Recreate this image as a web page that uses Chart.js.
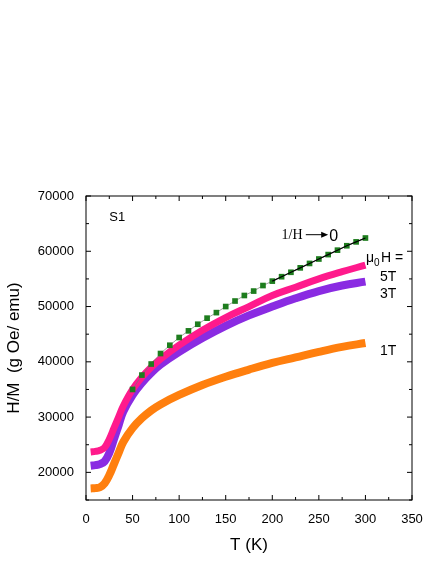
<!DOCTYPE html>
<html>
<head>
<script src="https://cdn.jsdelivr.net/npm/chart.js"></script>
<style>
  body { margin: 0; background: #fff; }
  #wrap { width: 436px; height: 564px; }
</style>
</head>
<body>
<div id="wrap"><canvas id="chart"></canvas></div>
<script>
const tGreen = [50,60,70,80,90,100,110,120,130,140,150,160,170,180,190,200,210,220,230,240,250,260,270,280,290,300];
const hmGreen = [35000,37600,39600,41500,43000,44400,45600,46800,47900,48900,50000,51000,52000,52800,53800,54600,55400,56200,57000,57800,58600,59400,60200,61000,61700,62400];
const tCurve = [5,10,15,20,25,30,35,40,50,60,70,80,100,125,150,175,200,225,250,275,300];
const hm5T = [23700,23800,24000,24500,26000,28000,30000,32000,35000,37200,39000,40500,43000,45700,48000,50000,52000,53500,55000,56300,57500];
const hm3T = [21200,21300,21500,22000,23500,26000,28500,31000,34000,36200,38000,39500,41800,44300,46500,48400,50000,51500,52800,53800,54500];
const hm1T = [17100,17150,17300,18000,19500,21500,23500,25500,28000,29800,31200,32300,34000,35800,37300,38600,39800,40800,41800,42700,43400];
const xTicks = [0,50,100,150,200,250,300,350];
const yTicks = [20000,30000,40000,50000,60000,70000];

const pts = (xs, ys) => xs.map((x, i) => ({ x: x, y: ys[i] }));
const fitLine = pts(tGreen.slice(15), hmGreen.slice(15));

const ticksPlugin = {
  id: 'ticksPlugin',
  afterDraw(chart) {
    const c = chart.ctx, a = chart.chartArea, sx = chart.scales.x, sy = chart.scales.y;
    c.save();
    c.strokeStyle = '#000';
    c.lineWidth = 1;
    c.strokeRect(a.left, a.top, a.right - a.left, a.bottom - a.top);
    c.beginPath();
    for (let v = 0; v <= 350; v += 25) {
      const p = sx.getPixelForValue(v), L = v % 50 === 0 ? 5 : 3;
      c.moveTo(p, a.bottom); c.lineTo(p, a.bottom - L);
      c.moveTo(p, a.top); c.lineTo(p, a.top + L);
    }
    for (let v = 15000; v <= 70000; v += 5000) {
      const p = sy.getPixelForValue(v), L = v % 10000 === 0 ? 5 : 3;
      c.moveTo(a.left, p); c.lineTo(a.left + L, p);
      c.moveTo(a.right, p); c.lineTo(a.right - L, p);
    }
    c.stroke();
    c.fillStyle = '#000';
    c.font = '13px "Liberation Sans", Arial';
    c.fillText('S1', sx.getPixelForValue(25), sy.getPixelForValue(65500));
    c.font = '14px "Liberation Serif", serif';
    c.fillText('1/H', sx.getPixelForValue(210), sy.getPixelForValue(62300));
    const ay = sy.getPixelForValue(63000);
    c.beginPath();
    c.moveTo(sx.getPixelForValue(236), ay);
    c.lineTo(sx.getPixelForValue(255), ay);
    c.stroke();
    c.beginPath();
    const ax = sx.getPixelForValue(260);
    c.moveTo(ax, ay); c.lineTo(ax - 7, ay - 3); c.lineTo(ax - 7, ay + 3); c.fill();
    c.font = '16px "Liberation Sans", Arial';
    c.fillText('0', ax + 1, ay + 6);
    c.font = '14px "Liberation Sans", Arial';
    c.fillText('\u03bc', 366, 262);
    c.font = '10px "Liberation Sans", Arial';
    c.fillText('0', 374, 266);
    c.font = '14px "Liberation Sans", Arial';
    c.fillText('H =', 381, 262);
    c.fillText('5T', 380, 281);
    c.fillText('3T', 380, 298);
    c.fillText('1T', 380, 355);
    c.restore();
  }
};

const font = { size: 13, family: '"Liberation Sans", Arial' };

new Chart(document.getElementById('chart'), {
  type: 'scatter',
  data: {
    datasets: [
      { data: fitLine, showLine: true, borderColor: '#000', borderWidth: 1.2, pointRadius: 0 },
      { data: pts(tGreen, hmGreen), showLine: true, borderColor: '#777', borderWidth: 0.7, pointStyle: 'rect', pointRadius: 4, pointBackgroundColor: '#1e7d1e', pointBorderWidth: 0 },
      { data: pts(tCurve, hm5T), showLine: true, tension: 0.4, borderColor: '#ff1a8c', borderWidth: 7, pointRadius: 0 },
      { data: pts(tCurve, hm3T), showLine: true, tension: 0.4, borderColor: '#8a2be2', borderWidth: 8, pointRadius: 0 },
      { data: pts(tCurve, hm1T), showLine: true, tension: 0.4, borderColor: '#ff7f0e', borderWidth: 8, pointRadius: 0 }
    ]
  },
  options: {
    responsive: true,
    maintainAspectRatio: false,
    animation: false,
    layout: { padding: { top: 196, right: 24, bottom: 4, left: 0 } },
    plugins: { legend: { display: false }, tooltip: { enabled: false } },
    scales: {
      x: {
        type: 'linear', min: 0, max: 350,
        afterBuildTicks: s => { s.ticks = xTicks.map(v => ({ value: v })); },
        grid: { display: false }, border: { display: false },
        ticks: { color: '#000', font: font, padding: 4 },
        title: { display: true, text: 'T (K)', color: '#000', font: { size: 17, family: '"Liberation Sans", Arial' } }
      },
      y: {
        type: 'linear', min: 15000, max: 70000,
        afterBuildTicks: s => { s.ticks = yTicks.map(v => ({ value: v })); },
        afterFit: s => { s.width = 86; },
        grid: { display: false }, border: { display: false },
        ticks: { color: '#000', font: font, padding: 4, callback: v => String(v) },
        title: { display: true, text: 'H/M  (g Oe/ emu)', color: '#000', font: { size: 17, family: '"Liberation Sans", Arial' } }
      }
    }
  },
  plugins: [ticksPlugin]
});
</script>
</body>
</html>
